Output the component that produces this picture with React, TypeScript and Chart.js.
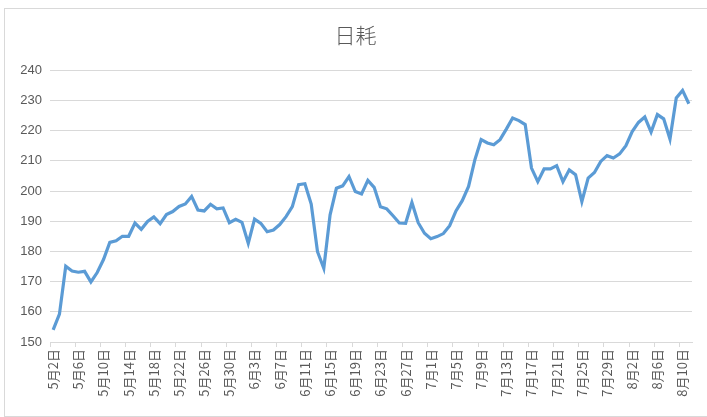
import React, { useEffect, useRef } from "react";
import { Chart, registerables } from "chart.js";

Chart.register(...registerables);

const TITLE = "日耗";

const dateLabels: string[] = [
  "5月2日", "5月3日", "5月4日", "5月5日", "5月6日", "5月7日", "5月8日", "5月9日", "5月10日", "5月11日",
  "5月12日", "5月13日", "5月14日", "5月15日", "5月16日", "5月17日", "5月18日", "5月19日", "5月20日", "5月21日",
  "5月22日", "5月23日", "5月24日", "5月25日", "5月26日", "5月27日", "5月28日", "5月29日", "5月30日", "5月31日",
  "6月1日", "6月2日", "6月3日", "6月4日", "6月5日", "6月6日", "6月7日", "6月8日", "6月9日", "6月10日",
  "6月11日", "6月12日", "6月13日", "6月14日", "6月15日", "6月16日", "6月17日", "6月18日", "6月19日", "6月20日",
  "6月21日", "6月22日", "6月23日", "6月24日", "6月25日", "6月26日", "6月27日", "6月28日", "6月29日", "6月30日",
  "7月1日", "7月2日", "7月3日", "7月4日", "7月5日", "7月6日", "7月7日", "7月8日", "7月9日", "7月10日",
  "7月11日", "7月12日", "7月13日", "7月14日", "7月15日", "7月16日", "7月17日", "7月18日", "7月19日", "7月20日",
  "7月21日", "7月22日", "7月23日", "7月24日", "7月25日", "7月26日", "7月27日", "7月28日", "7月29日", "7月30日",
  "7月31日",
  "8月1日", "8月2日", "8月3日", "8月4日", "8月5日", "8月6日", "8月7日", "8月8日", "8月9日", "8月10日",
  "8月11日",
];

const dailyConsumption: number[] = [
  154.0, 159.2, 175.1, 173.5, 173.1, 173.4, 169.9, 173.0, 177.3, 183.0,
  183.5, 185.0, 185.0, 189.4, 187.3, 189.9, 191.4, 189.2, 192.2, 193.2,
  194.9, 195.7, 198.2, 193.7, 193.4, 195.6, 194.1, 194.4, 189.5, 190.6,
  189.6, 182.7, 190.7, 189.3, 186.5, 187.1, 188.9, 191.5, 194.8, 202.1,
  202.4, 195.7, 179.9, 174.4, 192.1, 200.9, 201.7, 204.8, 199.8, 199.0,
  203.5, 201.2, 194.8, 194.1, 191.8, 189.4, 189.3, 196.2, 189.5, 186.0,
  184.2, 184.9, 185.9, 188.5, 193.4, 196.8, 201.5, 210.3, 217.0, 215.9,
  215.3, 217.0, 220.5, 224.2, 223.3, 222.0, 207.6, 203.1, 207.3, 207.3,
  208.4, 203.1, 207.0, 205.4, 196.5, 204.3, 206.1, 209.8, 211.7, 210.9,
  212.3, 215.0, 219.7, 222.7, 224.5, 219.5, 225.3, 223.9, 217.2, 230.8,
  233.3, 228.9,
];

const Y_MIN = 150;
const Y_MAX = 240;
const Y_STEP = 10;
const LABEL_EVERY = 4;

export default function App() {
  const canvasRef = useRef<HTMLCanvasElement | null>(null);

  useEffect(() => {
    const canvas = canvasRef.current;
    if (!canvas) return;
    const grey = "#d9d9d9";
    const textColor = "#595959";
    const chart = new Chart(canvas, {
      type: "line",
      data: {
        labels: dateLabels,
        datasets: [
          {
            label: TITLE,
            data: dailyConsumption,
            borderColor: "#5b9bd5",
            backgroundColor: "#5b9bd5",
            borderWidth: 3.2,
            pointRadius: 0,
            pointHoverRadius: 0,
            tension: 0,
            fill: false,
          },
        ],
      },
      options: {
        responsive: false,
        animation: false,
        devicePixelRatio: 1,
        layout: { padding: { left: 19, right: 15, top: 0, bottom: 0 } },
        plugins: {
          legend: { display: false },
          tooltip: { enabled: false },
          title: {
            display: true,
            text: TITLE,
            color: textColor,
            font: { family: "'Noto Sans CJK SC', sans-serif", size: 21, weight: 300 as any },
            padding: { top: 22, bottom: 23 },
          },
        },
        scales: {
          x: {
            type: "category",
            offset: true,
            grid: {
              display: true,
              drawOnChartArea: false,
              drawTicks: true,
              tickLength: 5,
              offset: true,
              color: (ctx: any) => (ctx.index % LABEL_EVERY === 0 ? grey : "rgba(0,0,0,0)"),
            },
            border: { display: true, color: grey, width: 1 },
            ticks: {
              autoSkip: false,
              minRotation: 90,
              maxRotation: 90,
              padding: 2,
              color: textColor,
              font: { family: "'Noto Sans CJK SC', sans-serif", size: 13 },
              callback: (_v: any, i: number) => (i % LABEL_EVERY === 0 ? dateLabels[i] : ""),
            },
            afterFit: (scale: any) => {
              scale.height = 75;
            },
          },
          y: {
            min: Y_MIN,
            max: Y_MAX,
            grid: { color: grey, drawTicks: false, lineWidth: 1 },
            border: { display: false },
            ticks: {
              stepSize: Y_STEP,
              padding: 8,
              color: textColor,
              font: { family: "'Liberation Sans', Arial, sans-serif", size: 13 },
            },
            afterFit: (scale: any) => {
              scale.width = 31;
            },
          },
        },
      },
    });
    return () => chart.destroy();
  }, []);

  return (
    <div
      style={{
        position: "fixed",
        left: 0,
        top: 0,
        width: 707,
        height: 417,
        overflow: "hidden",
        background: "#ffffff",
      }}
    >
      <div
        style={{
          position: "absolute",
          left: 4,
          top: 8,
          width: 720,
          height: 409,
          boxSizing: "border-box",
          border: "1px solid #d9d9d9",
        }}
      />
      <canvas
        ref={canvasRef}
        width={707}
        height={417}
        style={{ position: "absolute", left: 0, top: 0, width: 707, height: 417 }}
      />
    </div>
  );
}
